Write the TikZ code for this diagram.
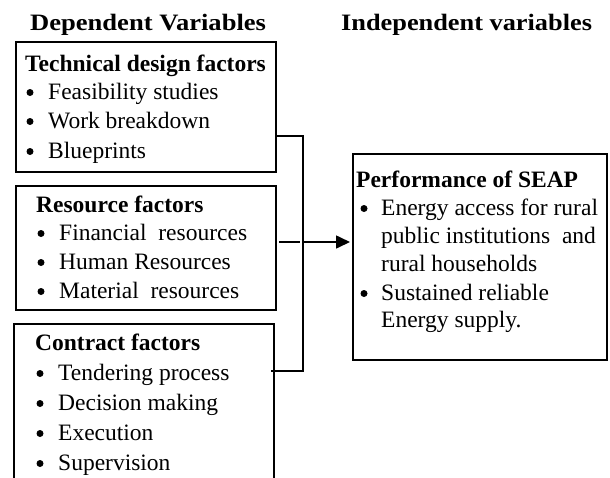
\documentclass[tikz,border=0pt]{standalone}
\usepackage{fontspec}
\setmainfont{Liberation Serif}
\usetikzlibrary{arrows.meta}
\begin{document}
\begin{tikzpicture}[x=1pt,y=-1pt,
  box/.style={minimum width=#1, inner sep=0pt, outer sep=0pt},
  frame/.style={line width=1.6pt, line join=miter},
  conn/.style={line width=1.6pt},
  txt/.style={anchor=base west, inner sep=0pt, font=\fontsize{23.5}{28}\selectfont},
  head/.style={txt, font=\fontsize{23.5}{28}\selectfont\bfseries},
  bul/.style={circle, fill=black, inner sep=0pt, minimum size=7pt, yshift=6.5pt}]
\useasboundingbox (0,0) rectangle (610,477);

% titles
\node[head] (t1) at (30,30) {\scalebox{1.13}[1]{Dependent Variables}};
\node[head] (t2) at (341,30) {\scalebox{1.12}[1]{Independent variables}};

% boxes
\node[box=260pt, minimum height=130pt, draw, frame] (b1) at (146,107) {};
\node[box=260pt, minimum height=124pt, draw, frame] (b2) at (146,248) {};
\node[box=260pt, minimum height=156pt] (b3) at (144,402) {};
\draw[frame] (b3.south west) -- (b3.north west) -- (b3.north east) -- (b3.south east);
\node[box=254pt, minimum height=206pt, draw, frame] (b4) at (480,257) {};

% box 1 text
\node[head] (h1) at (25,71) {Technical design factors};
\node[bul] (u11) at (30,99) {};  \node[txt] (l11) at (48,99) {Feasibility studies};
\node[bul] (u12) at (30,128) {}; \node[txt] (l12) at (48,128) {Work breakdown};
\node[bul] (u13) at (30,158) {}; \node[txt] (l13) at (48,158) {Blueprints};

% box 2 text
\node[head] (h2) at (36,212) {Resource factors};
\node[bul] (u21) at (41,240) {}; \node[txt] (l21) at (59,240) {Financial\ \ resources};
\node[bul] (u22) at (41,269) {}; \node[txt] (l22) at (59,269) {Human Resources};
\node[bul] (u23) at (41,298) {}; \node[txt] (l23) at (59,298) {Material\ \ resources};

% box 3 text
\node[head] (h3) at (35,350) {Contract factors};
\node[bul] (u31) at (40,380) {}; \node[txt] (l31) at (58,380) {Tendering process};
\node[bul] (u32) at (40,410) {}; \node[txt] (l32) at (58,410) {Decision making};
\node[bul] (u33) at (40,440) {}; \node[txt] (l33) at (58,440) {Execution};
\node[bul] (u34) at (40,470) {}; \node[txt] (l34) at (58,470) {Supervision};

% box 4 text
\node[head] (h4) at (356,187) {Performance of SEAP};
\node[bul] (u41) at (364,215) {}; \node[txt] (l41) at (381,215) {Energy access for rural};
\node[txt] (l42) at (381,243) {public institutions\ \ and};
\node[txt] (l43) at (381,271) {rural households};
\node[bul] (u44) at (364,300) {}; \node[txt] (l44) at (381,300) {Sustained reliable};
\node[txt] (l45) at (381,327) {Energy supply.};

% connectors
\coordinate (j1) at (303,136);
\coordinate (j2) at (303,371);
\coordinate (r1) at (279,242);
\coordinate (r2) at (300,242);
\coordinate (a1) at (304,242);
\draw[conn] (b1.east |- j1) -- (j1) -- (j2) -- ([xshift=-3pt]b3.east |- j2);
\draw[conn] (r1) -- (r2);
\draw[conn, -{Triangle[length=14pt,width=13pt]}] (a1) -- ([xshift=-3pt]b4.west |- a1);
\end{tikzpicture}
\end{document}
